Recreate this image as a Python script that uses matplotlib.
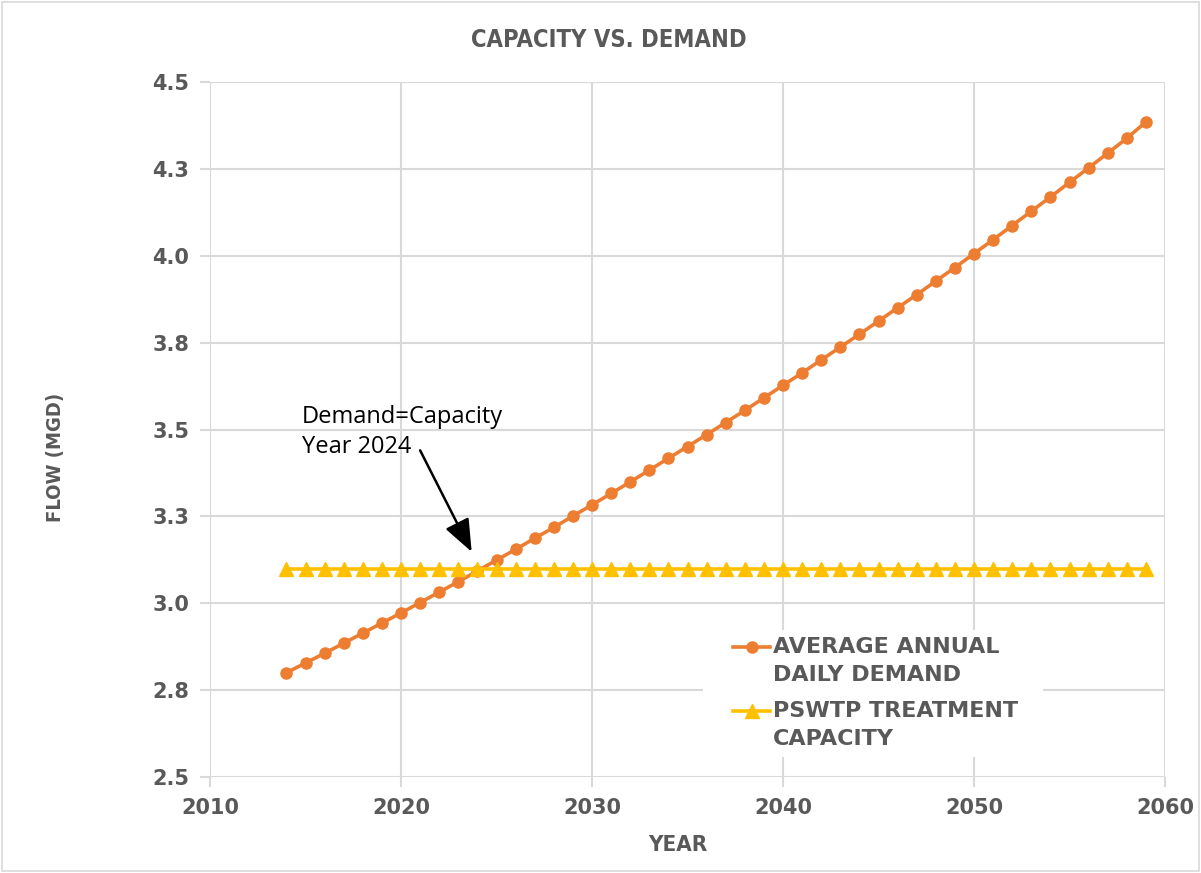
import matplotlib
matplotlib.use("Agg")
import matplotlib.pyplot as plt
from matplotlib.patches import Rectangle

# data
years = list(range(2014, 2060))
demand = [2.800, 2.828, 2.856, 2.885, 2.914, 2.943, 2.972, 3.002, 3.032, 3.062,
          3.093, 3.124, 3.155, 3.187, 3.218, 3.251, 3.283, 3.316, 3.349, 3.383,
          3.417, 3.451, 3.485, 3.520, 3.555, 3.591, 3.627, 3.663, 3.700, 3.737,
          3.774, 3.812, 3.850, 3.888, 3.927, 3.966, 4.006, 4.046, 4.087, 4.128,
          4.169, 4.211, 4.253, 4.295, 4.338, 4.385]
capacity = [3.1] * len(years)
y_ticks = [2.5, 2.75, 3.0, 3.25, 3.5, 3.75, 4.0, 4.25, 4.5]
y_labels = ["2.5", "2.8", "3.0", "3.3", "3.5", "3.8", "4.0", "4.3", "4.5"]
x_ticks = [2010, 2020, 2030, 2040, 2050, 2060]
series_names = ["AVERAGE ANNUAL\nDAILY DEMAND", "PSWTP TREATMENT\nCAPACITY"]

grey = "#595959"
grid_c = "#d9d9d9"
orange = "#ed7d31"
yellow = "#ffc000"
cond = dict(family="DejaVu Sans", stretch="condensed", fontweight="bold")

fig = plt.figure(figsize=(12.01, 8.73), dpi=100)
ax = fig.add_axes([210/1201, 1 - 777/873, 955/1201, 695/873])

ax.plot(years, demand, color=orange, lw=2.6, marker="o", ms=8, zorder=3)
ax.plot(years, capacity, color=yellow, lw=2.6, marker="^", ms=9.5, zorder=3)

ax.set_xlim(2010, 2060)
ax.set_ylim(2.5, 4.5)
ax.set_xticks(x_ticks)
ax.set_yticks(y_ticks)
ax.set_yticklabels(y_labels)
ax.grid(True, color=grid_c, lw=1.5)
ax.set_axisbelow(True)
for s in ax.spines.values():
    s.set_visible(False)
ax.tick_params(colors=grid_c, width=1.5, length=7, labelcolor=grey,
               labelsize=15, pad=8)
for lab in ax.get_xticklabels() + ax.get_yticklabels():
    lab.set_fontweight("semibold")

fig.text(55/1201, 1 - 457/873, "FLOW (MGD)", rotation=90, ha="center",
         va="center", color=grey, fontsize=14.5, **cond)
fig.text(678/1201, 1 - 845/873, "YEAR", ha="center", va="center",
         color=grey, fontsize=16, **cond)
fig.text(609/1201, 1 - 40/873, "CAPACITY VS. DEMAND", ha="center",
         va="center", color=grey, fontsize=17, **cond)

# legend: white box masking the grid, handle next to the first text line
ax.add_patch(Rectangle((0.516, 0.029), 0.356, 0.183, transform=ax.transAxes,
                       facecolor="white", edgecolor="none", zorder=2))
leg_rows = [(series_names[0], orange, "o", 8, 0.1871, 0.1669),
            (series_names[1], yellow, "^", 9.5, 0.0950, 0.0755)]
for name, col, mk, ms, yh, yt in leg_rows:
    ax.plot([0.5476, 0.5675, 0.5864], [yh, yh, yh], transform=ax.transAxes,
            color=col, lw=2.6, marker=mk, ms=ms, markevery=[1], zorder=4,
            clip_on=False)
    ax.text(0.5895, yt, name, transform=ax.transAxes, ha="left", va="center",
            color=grey, fontsize=16, fontweight="semibold", linespacing=1.5,
            zorder=4)

ax.text(2014.8, 3.57, "Demand=Capacity\nYear 2024", fontsize=17,
        va="top", ha="left", color="black", linespacing=1.3,
        family=["Open Sans", "DejaVu Sans"])
ax.annotate("", xy=(2023.7, 3.148), xytext=(2021.0, 3.44),
            arrowprops=dict(arrowstyle="-|>,head_length=1.0,head_width=0.4",
                            color="black", lw=1.8, mutation_scale=20,
                            shrinkA=0, shrinkB=0))

fig.patches.append(Rectangle((0.002, 0.002), 0.996, 0.996,
                             transform=fig.transFigure, fill=False,
                             edgecolor="#d9d9d9", lw=1.2))

fig.savefig("out.png", dpi=100)
